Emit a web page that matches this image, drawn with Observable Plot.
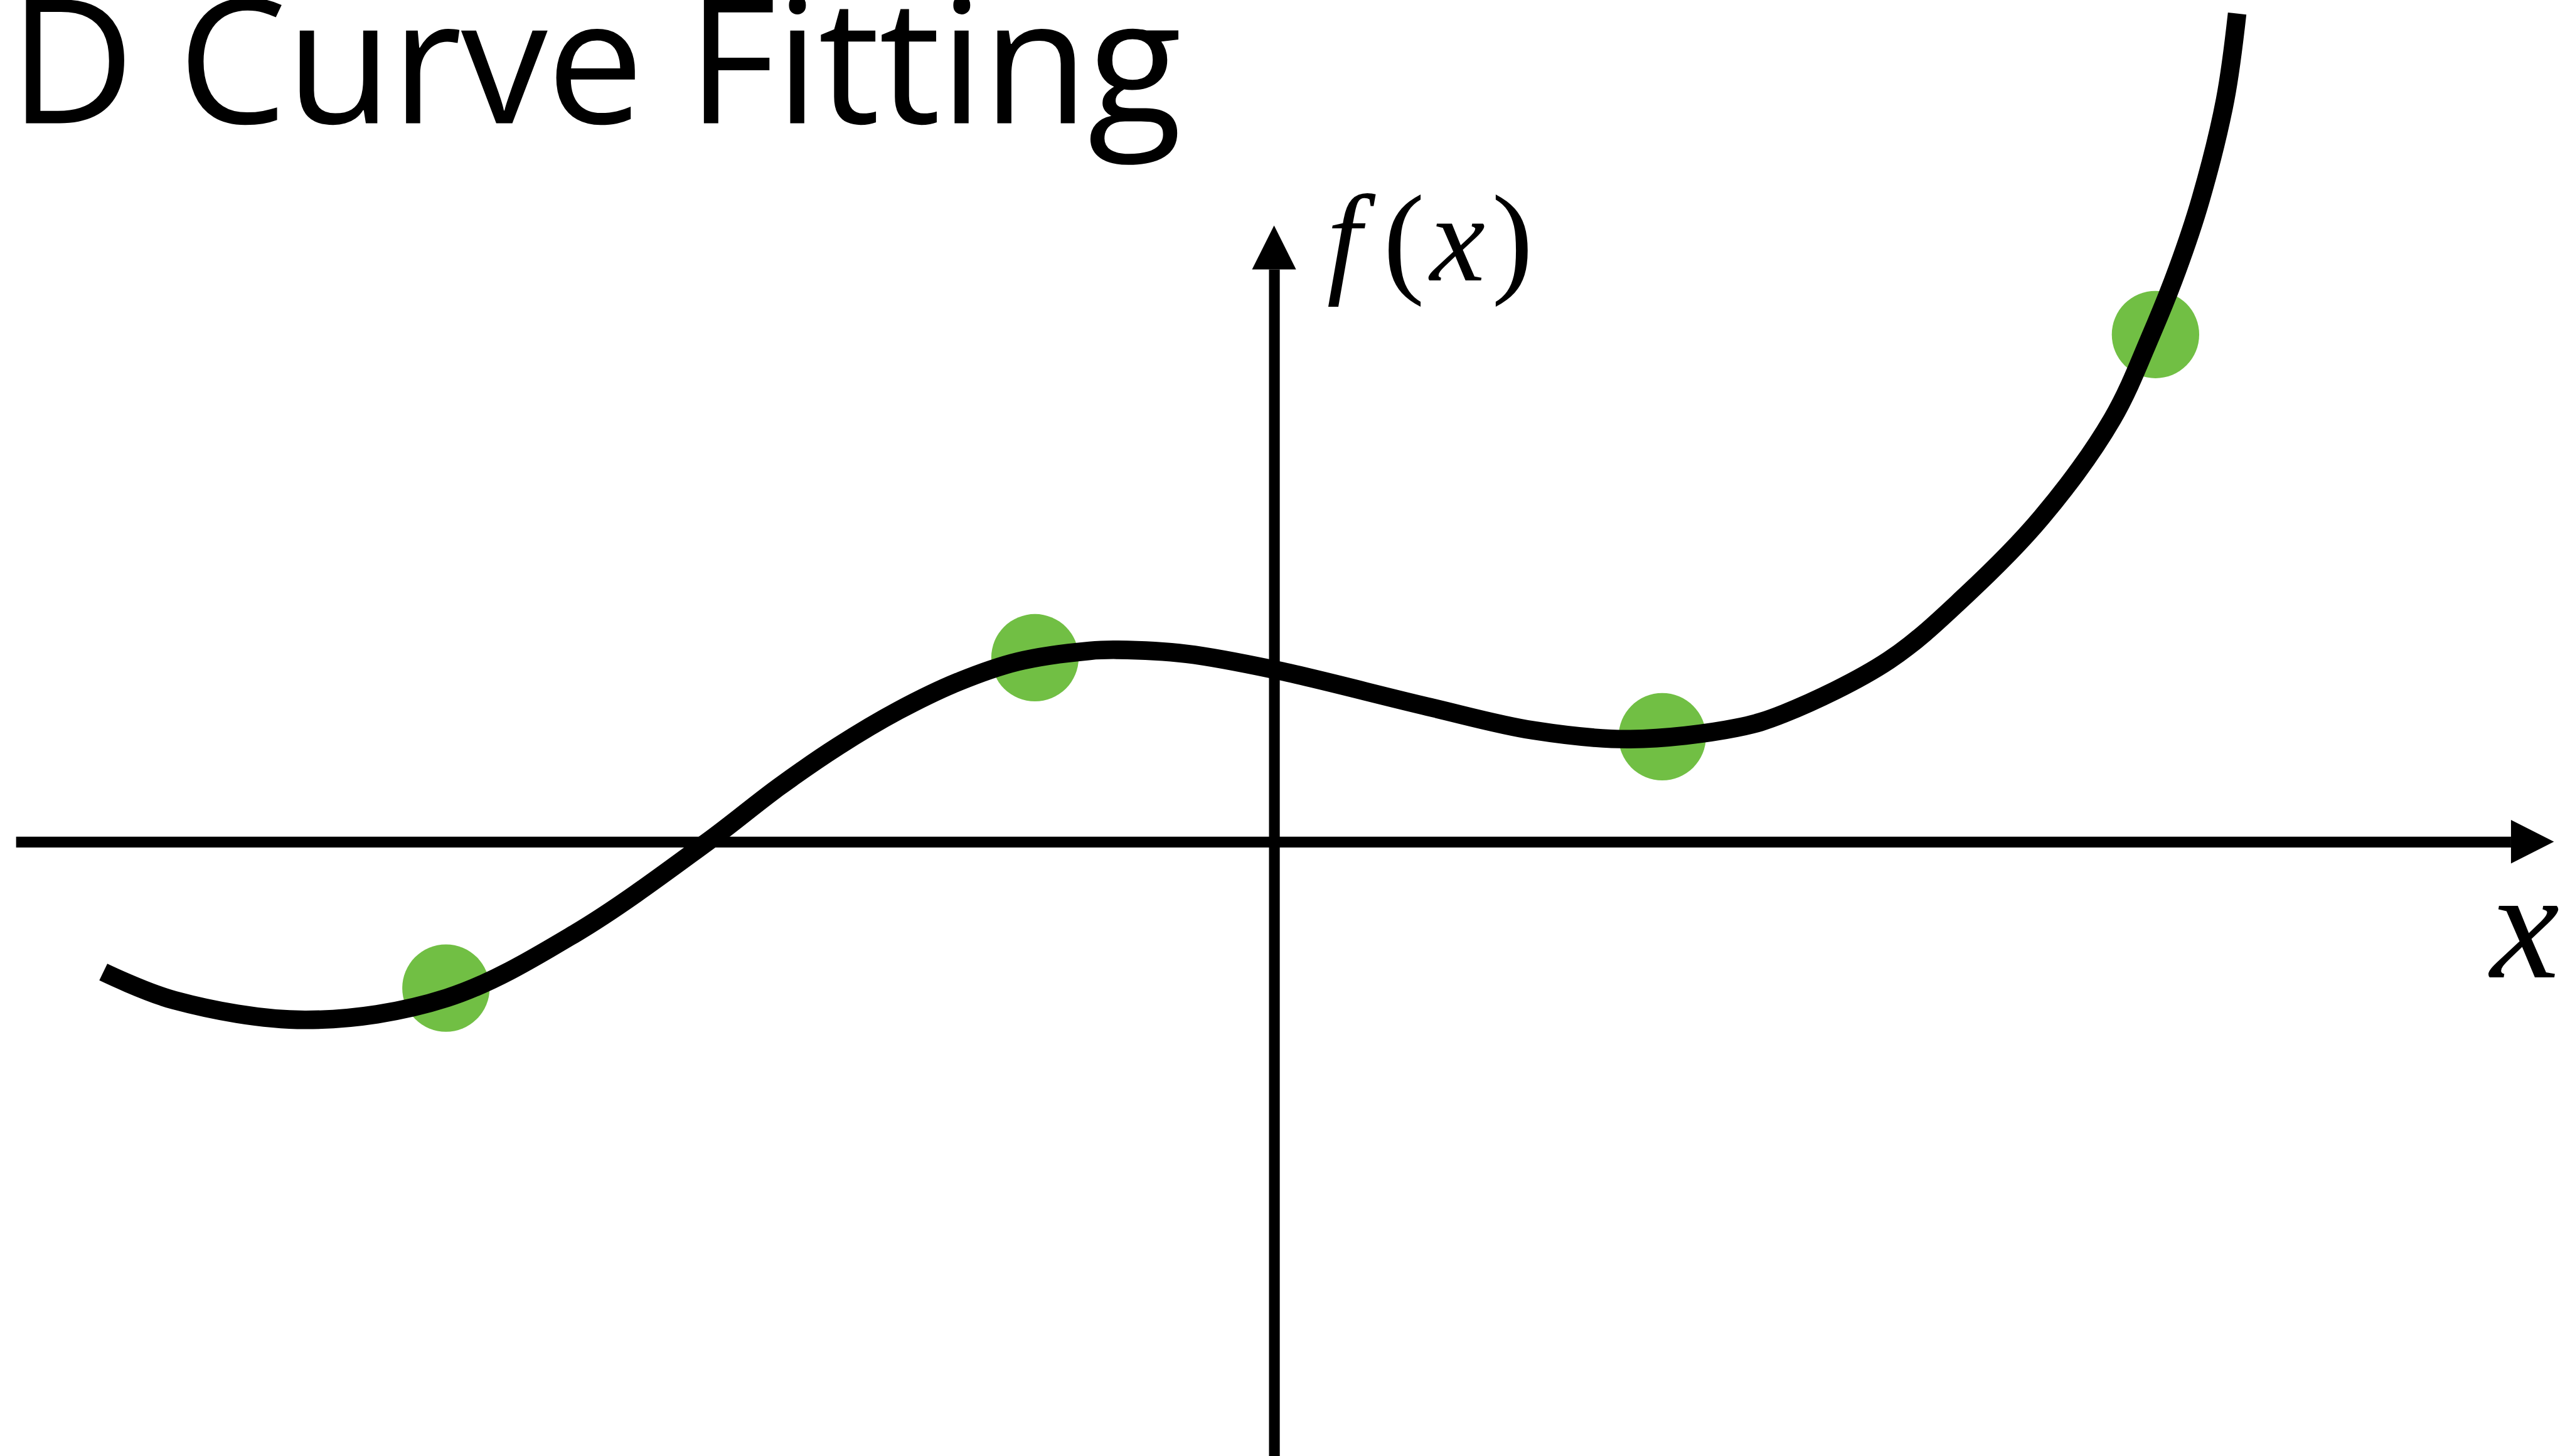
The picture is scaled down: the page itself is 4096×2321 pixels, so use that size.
<!DOCTYPE html>
<html>
<head>
<meta charset="utf-8">
<script src="https://cdn.jsdelivr.net/npm/d3@7"></script>
<script src="https://cdn.jsdelivr.net/npm/@observablehq/plot@0.6"></script>
<style>
  html, body { margin: 0; padding: 0; background: #ffffff; overflow: hidden; }
  #chart svg { display: block; }
  .chart-title text { letter-spacing: -1.5px; }
</style>
</head>
<body>
<div id="chart"></div>
<script>
// ---------------- DATA ----------------
// Observed samples (green points)
const sampleX = [-3.46, -1.00, 1.62, 3.68];
const sampleY = [-0.61, 0.77, 0.44, 2.12];

// Fitted curve, sampled along its centre line
const curveX = [-4.891, -4.594, -4.044, -3.456, -2.919, -2.369, -2.071, -1.821, -1.571, -1.321,
                -1.071, -0.771, -0.654, -0.366, 0.000, 0.639, 1.084, 1.486, 1.929, 2.129,
                2.566, 2.886, 3.204, 3.499, 3.664, 3.771, 3.869, 3.971, 4.021];
const curveY = [-0.543, -0.661, -0.743, -0.651, -0.381, 0.000, 0.229, 0.401, 0.549, 0.669,
                0.754, 0.799, 0.803, 0.786, 0.720, 0.566, 0.466, 0.430, 0.477, 0.537,
                0.759, 1.029, 1.356, 1.766, 2.124, 2.391, 2.686, 3.101, 3.461];

// Texts
const titleText = "D Curve Fitting";
const xAxisLabel = "x";
const yLabelGlyphs = ["f", "(", "x", ")"];
const yLabelItalic = [true, false, true, false];

// ---------------- LAYOUT / STYLE ----------------
const W = 4096, H = 2321;
const S = 0.954;                 // scale from reference
const AXIS_W = 18 * S;
const CURVE_W = 31 * S;
const DOT_R = 73 * S;
const GREEN = "#71bf44";
const SERIF = "'Liberation Serif', 'DejaVu Serif', serif";
const SANS = "'Open Sans', 'Noto Sans', sans-serif";

// axis geometry in data units
const xAxisFrom = -5.254, xAxisTo = 5.166, xHeadTip = 5.3455, xHeadHalf = 0.0909;
const yAxisFrom = -2.8, yAxisTo = 2.391, yHeadTip = 2.574, yHeadHalf = 0.0919;

// label placement (data units)
const yLabelGlyphX = [0.291, 0.541, 0.765, 0.994];
const yLabelBaseline = 2.346;
const xLabelPos = {x: 5.2225, y: -0.566};

// ---------------- BUILD ----------------
const samples = sampleX.map((x, i) => ({x, y: sampleY[i]}));
const curvePts = curveX.map((x, i) => ({x, y: curveY[i]}));
const yLabel = yLabelGlyphs.map((t, i) => ({t, x: yLabelGlyphX[i], y: yLabelBaseline, italic: yLabelItalic[i]}));

const chart = Plot.plot({
  width: W,
  height: H,
  margin: 0,
  style: {background: "#ffffff", overflow: "visible"},
  x: {domain: [-5, 5], range: [128.5 * S, 4128.5 * S], axis: null},
  y: {domain: [-2, 3], range: [2206.5 * S, 206.5 * S], axis: null},
  marks: [
    // axes with filled arrowheads
    Plot.ruleY([{y: 0, x1: xAxisFrom, x2: xAxisTo}], {y: "y", x1: "x1", x2: "x2", stroke: "black", strokeWidth: AXIS_W}),
    Plot.ruleX([{x: 0, y1: yAxisFrom, y2: yAxisTo}], {x: "x", y1: "y1", y2: "y2", stroke: "black", strokeWidth: AXIS_W}),
    Plot.areaY([{x: xAxisTo, y1: -xHeadHalf, y2: xHeadHalf}, {x: xHeadTip, y1: 0, y2: 0}],
      {x: "x", y1: "y1", y2: "y2", fill: "black"}),
    Plot.areaX([{y: yAxisTo, x1: -yHeadHalf, x2: yHeadHalf}, {y: yHeadTip, x1: 0, x2: 0}],
      {y: "y", x1: "x1", x2: "x2", fill: "black"}),
    // samples
    Plot.dot(samples, {x: "x", y: "y", r: DOT_R, fill: GREEN, stroke: "none"}),
    // fitted curve
    Plot.line(curvePts, {x: "x", y: "y", curve: d3.curveCatmullRom, stroke: "black", strokeWidth: CURVE_W,
      strokeLinecap: "butt", strokeLinejoin: "round"}),
    // axis labels
    Plot.text(yLabel.filter(d => d.italic), {x: "x", y: "y", text: "t", fontSize: 198, fontFamily: SERIF,
      fontStyle: "italic", textAnchor: "middle", lineAnchor: "bottom", fill: "black"}),
    Plot.text(yLabel.filter(d => !d.italic), {x: "x", y: "y", text: "t", fontSize: 198, fontFamily: SERIF,
      textAnchor: "middle", lineAnchor: "bottom", fill: "black"}),
    Plot.text([xAxisLabel], {x: () => xLabelPos.x, y: () => xLabelPos.y, text: d => d, fontSize: 248,
      fontFamily: SERIF, fontStyle: "italic", textAnchor: "middle", lineAnchor: "bottom", fill: "black"}),
    // title
    Plot.text([titleText], {frameAnchor: "top-left", text: d => d, dx: 14, dy: 196, fontSize: 276,
      fontFamily: SANS, textAnchor: "start", lineAnchor: "bottom", fill: "black", className: "chart-title"})
  ]
});

document.getElementById("chart").appendChild(chart);
</script>
</body>
</html>
